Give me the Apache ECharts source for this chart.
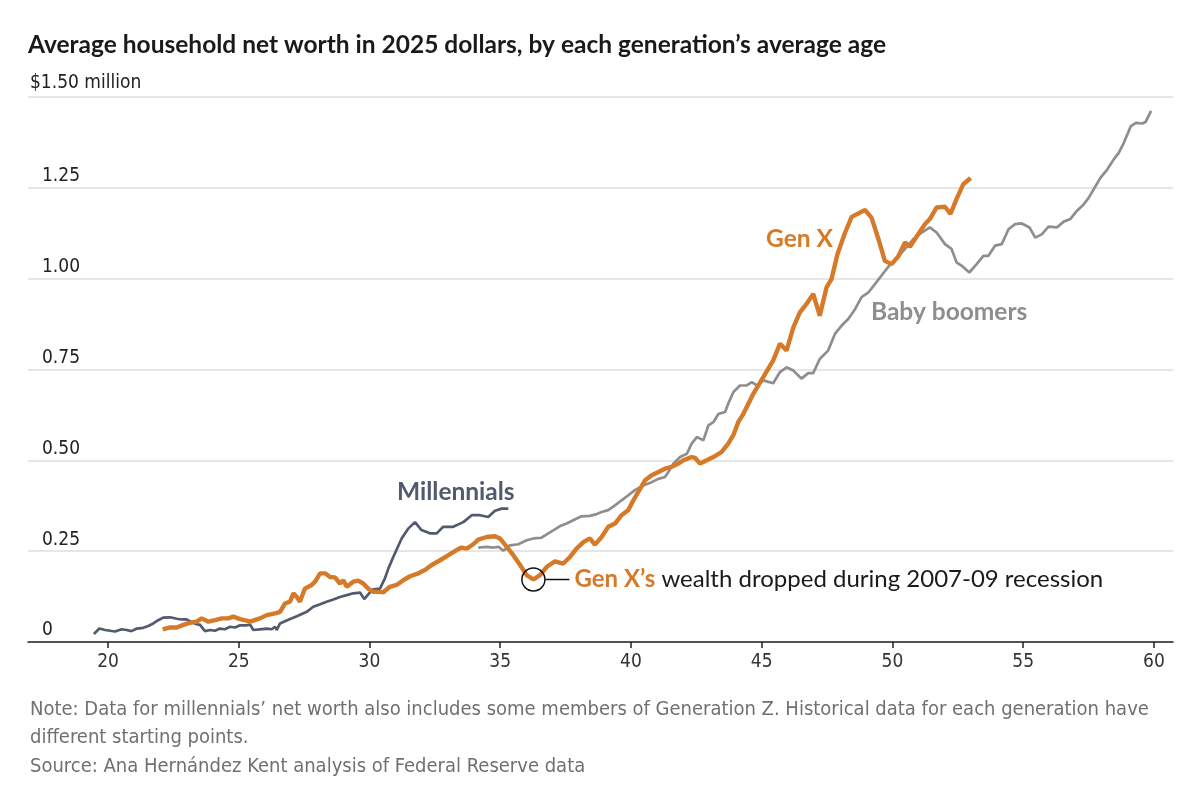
<!DOCTYPE html>
<html><head><meta charset="utf-8">
<script src="https://cdn.jsdelivr.net/npm/echarts@6/dist/echarts.min.js"></script>
<style>html,body{margin:0;padding:0;background:#fff}#c{width:1200px;height:805px}</style>
</head><body><div id="c"></div>
<script>
const titleText = 'Average household net worth in 2025 dollars, by each generation\u2019s average age';
const noteLines = [
  'Note: Data for millennials\u2019 net worth also includes some members of Generation Z. Historical data for each generation have',
  'different starting points.',
  'Source: Ana Hern\u00e1ndez Kent analysis of Federal Reserve data'
];
const xTicks = [20, 25, 30, 35, 40, 45, 50, 55, 60];
const yTicks = [0, 0.25, 0.5, 0.75, 1, 1.25, 1.5];
const yTickLabels = ['0', '0.25', '0.50', '0.75', '1.00', '1.25', '$1.50 million'];
const seriesNames = ['Millennials', 'Gen X', 'Baby boomers'];
const annotationText = ['Gen X\u2019s', 'wealth dropped during 2007-09 recession'];

// [average age, net worth in $ millions]
const millennials = [[19.46,0.022],[19.67,0.037],[19.89,0.033],[20.08,0.031],[20.27,0.029],[20.52,0.035],[20.71,0.033],[20.9,0.030],[21.1,0.037],[21.35,0.039],[21.54,0.044],[21.73,0.051],[21.92,0.060],[22.11,0.067],[22.37,0.068],[22.63,0.064],[22.82,0.062],[23.0,0.062],[23.2,0.055],[23.39,0.049],[23.52,0.047],[23.71,0.030],[23.9,0.033],[24.09,0.031],[24.28,0.037],[24.47,0.035],[24.67,0.042],[24.86,0.040],[25.05,0.046],[25.3,0.046],[25.43,0.048],[25.56,0.033],[25.81,0.035],[26.07,0.037],[26.26,0.035],[26.39,0.042],[26.45,0.033],[26.58,0.051],[26.83,0.059],[27.22,0.071],[27.6,0.083],[27.85,0.097],[28.11,0.104],[28.36,0.111],[28.62,0.117],[28.87,0.124],[29.13,0.129],[29.38,0.134],[29.64,0.136],[29.8,0.118],[30.0,0.135],[30.15,0.145],[30.4,0.147],[30.59,0.175],[30.72,0.202],[30.91,0.234],[31.23,0.285],[31.48,0.312],[31.74,0.330],[31.99,0.308],[32.31,0.299],[32.57,0.299],[32.82,0.317],[33.2,0.317],[33.59,0.330],[33.91,0.349],[34.23,0.349],[34.54,0.344],[34.8,0.361],[35.06,0.367],[35.31,0.367]];

const genX = [[22.09,0.035],[22.37,0.040],[22.63,0.040],[22.88,0.047],[23.14,0.053],[23.39,0.056],[23.58,0.065],[23.84,0.056],[24.09,0.060],[24.35,0.065],[24.6,0.065],[24.79,0.070],[25.05,0.063],[25.3,0.059],[25.43,0.056],[25.81,0.065],[26.07,0.074],[26.39,0.079],[26.58,0.083],[26.77,0.106],[26.96,0.111],[27.09,0.134],[27.22,0.124],[27.34,0.111],[27.53,0.147],[27.79,0.157],[27.92,0.166],[28.11,0.189],[28.3,0.189],[28.49,0.179],[28.68,0.178],[28.87,0.161],[29.0,0.170],[29.13,0.152],[29.38,0.166],[29.57,0.169],[29.76,0.161],[29.95,0.147],[30.15,0.138],[30.4,0.138],[30.53,0.137],[30.78,0.152],[31.04,0.157],[31.29,0.170],[31.55,0.181],[31.87,0.189],[32.12,0.198],[32.38,0.212],[32.7,0.225],[33.02,0.239],[33.33,0.253],[33.52,0.260],[33.72,0.257],[33.97,0.269],[34.16,0.282],[34.48,0.289],[34.8,0.291],[34.99,0.285],[35.25,0.262],[35.5,0.239],[35.76,0.212],[36.01,0.184],[36.27,0.172],[36.52,0.184],[36.78,0.207],[37.09,0.222],[37.41,0.216],[37.67,0.234],[37.92,0.257],[38.18,0.275],[38.43,0.285],[38.62,0.268],[38.88,0.289],[39.13,0.317],[39.39,0.326],[39.64,0.349],[39.9,0.363],[40.09,0.390],[40.28,0.413],[40.54,0.445],[40.79,0.459],[41.05,0.468],[41.3,0.477],[41.56,0.482],[41.81,0.491],[42.0,0.500],[42.32,0.509],[42.45,0.507],[42.64,0.491],[42.9,0.500],[43.15,0.509],[43.47,0.523],[43.72,0.546],[43.92,0.570],[44.1,0.605],[44.3,0.628],[44.68,0.683],[45.06,0.729],[45.44,0.775],[45.7,0.821],[45.95,0.802],[46.21,0.866],[46.46,0.907],[46.71,0.930],[46.97,0.958],[47.22,0.898],[47.48,0.976],[47.67,0.999],[47.9,1.068],[48.18,1.125],[48.44,1.170],[48.95,1.189],[49.2,1.168],[49.46,1.110],[49.71,1.049],[49.97,1.040],[50.22,1.061],[50.48,1.100],[50.67,1.088],[50.99,1.123],[51.24,1.150],[51.43,1.164],[51.69,1.196],[52.01,1.198],[52.22,1.178],[52.45,1.219],[52.71,1.260],[52.99,1.277]];

const boomers = [[34.16,0.260],[34.48,0.262],[34.73,0.260],[34.93,0.262],[35.12,0.251],[35.37,0.266],[35.69,0.269],[36.01,0.280],[36.27,0.285],[36.58,0.287],[36.84,0.299],[37.09,0.310],[37.29,0.319],[37.54,0.326],[37.79,0.335],[38.11,0.346],[38.43,0.347],[38.69,0.352],[38.88,0.358],[39.13,0.363],[39.39,0.376],[39.64,0.390],[39.9,0.404],[40.15,0.418],[40.47,0.431],[40.79,0.440],[41.05,0.449],[41.3,0.454],[41.43,0.468],[41.62,0.491],[41.88,0.509],[42.14,0.518],[42.32,0.546],[42.52,0.564],[42.77,0.555],[42.96,0.596],[43.15,0.605],[43.35,0.628],[43.6,0.633],[43.72,0.656],[43.92,0.688],[44.17,0.706],[44.43,0.706],[44.62,0.715],[44.81,0.706],[45.06,0.720],[45.44,0.712],[45.7,0.743],[45.95,0.756],[46.21,0.747],[46.52,0.725],[46.78,0.740],[46.97,0.740],[47.22,0.779],[47.54,0.802],[47.8,0.848],[48.06,0.871],[48.31,0.889],[48.57,0.916],[48.82,0.949],[49.08,0.962],[49.33,0.985],[49.65,1.015],[49.9,1.038],[50.16,1.055],[50.48,1.082],[50.8,1.109],[51.12,1.127],[51.43,1.141],[51.69,1.127],[52.01,1.095],[52.26,1.082],[52.45,1.045],[52.64,1.036],[52.94,1.017],[53.22,1.040],[53.48,1.063],[53.67,1.063],[53.93,1.091],[54.18,1.095],[54.44,1.136],[54.69,1.150],[54.95,1.152],[55.24,1.141],[55.46,1.113],[55.71,1.122],[55.97,1.143],[56.29,1.141],[56.55,1.157],[56.8,1.164],[57.06,1.187],[57.32,1.205],[57.51,1.223],[57.77,1.255],[57.96,1.278],[58.22,1.301],[58.47,1.329],[58.66,1.347],[58.85,1.374],[59.12,1.420],[59.31,1.429],[59.56,1.427],[59.69,1.432],[59.89,1.462]];

const C_MIL = '#525a6e', C_GX = '#d67a2a', C_BB = '#8e8e8e';
const NARROW = "'Liberation Sans Narrow', 'DejaVu Sans Condensed', 'Roboto', sans-serif";
const SANS = "'Lato', 'Open Sans', sans-serif";

const chart = echarts.init(document.getElementById('c'), null, {renderer: 'canvas'});

// recession low point: Gen X minimum between ages 35 and 38
const low = genX.filter(d => d[0] > 35 && d[0] < 38).reduce((a, b) => b[1] < a[1] ? b : a);

chart.setOption({
  animation: false,
  backgroundColor: '#fff',
  grid: {left: 28, right: 27, top: 97, bottom: 163, containLabel: false},
  xAxis: {
    type: 'value', min: 16.94, max: 60.73,
    axisLine: {onZero: true, lineStyle: {color: '#222', width: 1.5}},
    axisTick: {show: true, customValues: xTicks, length: 6, lineStyle: {color: '#222', width: 1.5}},
    axisLabel: {customValues: xTicks, fontFamily: NARROW, fontSize: 19, color: '#333', margin: 11},
    splitLine: {show: false}
  },
  yAxis: {
    type: 'value', min: 0, max: 1.5, interval: 0.25,
    axisLine: {show: false}, axisTick: {show: false},
    axisLabel: {
      inside: true, margin: 14, verticalAlign: 'bottom', padding: [0, 0, 2, 0],
      fontFamily: NARROW, fontSize: 19, color: '#222',
      formatter: v => { const i = yTicks.findIndex(t => Math.abs(t - v) < 1e-6); return (i < 0 || i === yTicks.length - 1) ? '' : yTickLabels[i]; }
    },
    splitLine: {lineStyle: {color: '#dedede', width: 1.5}}
  },
  series: [
    {name: seriesNames[2], type: 'line', data: boomers, showSymbol: false, symbol: 'none', lineStyle: {color: C_BB, width: 2.7}, z: 2},
    {name: seriesNames[0], type: 'line', data: millennials, showSymbol: false, symbol: 'none', lineStyle: {color: C_MIL, width: 2.7}, z: 3},
    {name: seriesNames[1], type: 'line', data: genX, showSymbol: false, symbol: 'none', lineStyle: {color: C_GX, width: 4.4}, z: 4}
  ]
});

const px = (a, v) => chart.convertToPixel({gridIndex: 0}, [a, v]);
const topY = px(20, yTicks[yTicks.length - 1])[1];
const lp = px(low[0], low[1]);

chart.setOption({
  graphic: [
    {type: 'text', x: 28, y: 45, style: {text: titleText, font: "bold 24.5px " + SANS, fill: '#1a1a1a', verticalAlign: 'middle'}},
    {type: 'text', x: 30, y: topY - 4, style: {text: yTickLabels[yTicks.length - 1], font: "19px " + NARROW, fill: '#222', verticalAlign: 'bottom'}},
    {type: 'text', x: 397, y: 492, style: {text: seriesNames[0], font: "bold 24.5px " + SANS, fill: C_MIL, verticalAlign: 'middle'}},
    {type: 'text', x: 766, y: 239, style: {text: seriesNames[1], font: "bold 24.5px " + SANS, fill: C_GX, verticalAlign: 'middle'}},
    {type: 'text', x: 871, y: 312, style: {text: seriesNames[2], font: "bold 24.5px " + SANS, fill: C_BB, verticalAlign: 'middle'}},
    {type: 'circle', shape: {cx: lp[0], cy: lp[1], r: 11.5}, style: {fill: 'none', stroke: '#111', lineWidth: 1.5}, z: 100},
    {type: 'line', shape: {x1: lp[0] + 12, y1: lp[1], x2: lp[0] + 36, y2: lp[1]}, style: {stroke: '#111', lineWidth: 1.5}, z: 100},
    {type: 'text', x: lp[0] + 41, y: lp[1], z: 100, style: {
      text: '{b|' + annotationText[0] + '}{r| ' + annotationText[1] + '}',
      verticalAlign: 'middle',
      rich: {
        b: {font: "bold 24px " + SANS, fill: C_GX},
        r: {font: "24px " + SANS, fill: '#1a1a1a'}
      }
    }},
    {type: 'text', x: 30, y: 710, style: {text: noteLines[0], font: "20px " + NARROW, fill: '#707070', verticalAlign: 'middle'}},
    {type: 'text', x: 30, y: 738, style: {text: noteLines[1], font: "20px " + NARROW, fill: '#707070', verticalAlign: 'middle'}},
    {type: 'text', x: 30, y: 767, style: {text: noteLines[2], font: "20px " + NARROW, fill: '#707070', verticalAlign: 'middle'}}
  ]
});
</script>
</body></html>
